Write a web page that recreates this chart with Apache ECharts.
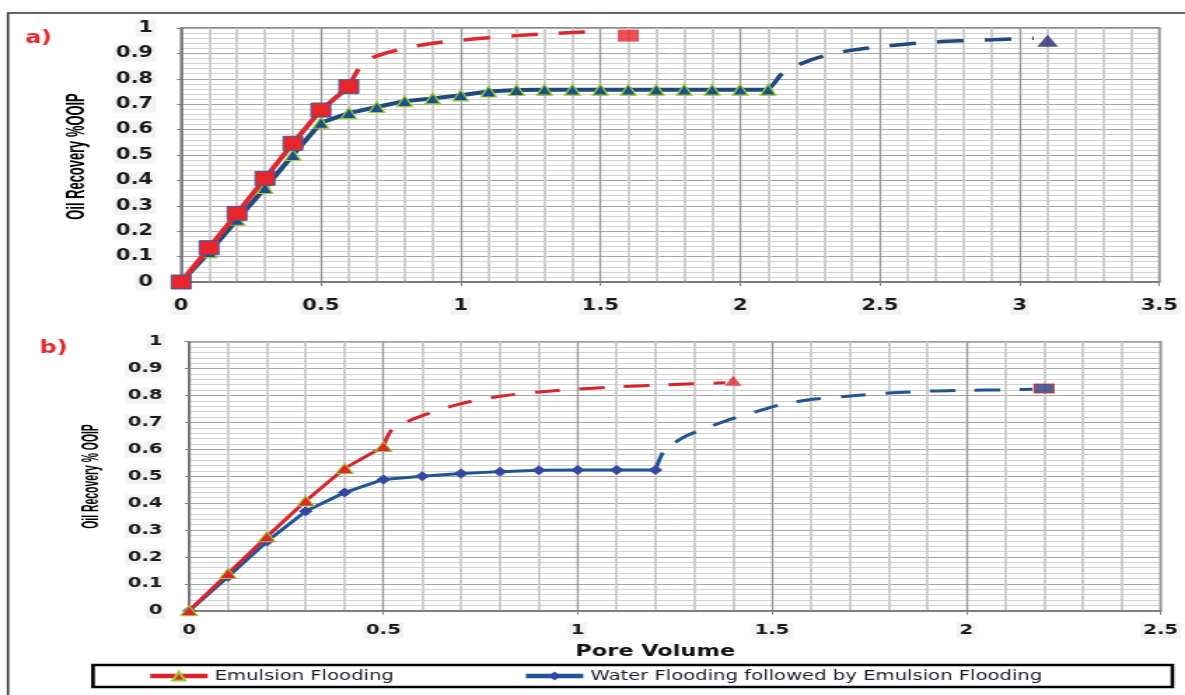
<!DOCTYPE html>
<html>
<head>
<meta charset="utf-8">
<title>Oil Recovery vs Pore Volume</title>
<script src="https://cdn.jsdelivr.net/npm/echarts@6/dist/echarts.min.js"></script>
<style>
  html, body { margin: 0; padding: 0; background: #fff; overflow: hidden; }
  #wrap { width: 1185px; height: 695px; overflow: hidden; }
  /* the figure is laid out on a narrower canvas and widened horizontally */
  #chart { width: 846px; height: 695px; transform: scaleX(1.40071); transform-origin: 0 0; }
</style>
</head>
<body>
<div id="wrap"><div id="chart"></div></div>
<script>
// ---------- panel a) ----------
const emulsionPvA   = [0, 0.1, 0.2, 0.3, 0.4, 0.5, 0.6];
const emulsionRecA  = [0, 0.135, 0.27, 0.408, 0.546, 0.677, 0.769];
const emulsionTrendPvA  = [0.6, 0.63, 0.66, 0.7, 0.8, 0.9, 1.0, 1.1, 1.2, 1.3, 1.4, 1.5];
const emulsionTrendRecA = [0.769, 0.83, 0.865, 0.89, 0.92, 0.94, 0.952, 0.962, 0.97, 0.977, 0.982, 0.987];
const emulsionEndA = [1.6, 0.97];

const waterPvA  = [0, 0.1, 0.2, 0.3, 0.4, 0.5, 0.6, 0.7, 0.8, 0.9, 1.0, 1.1,
                   1.2, 1.3, 1.4, 1.5, 1.6, 1.7, 1.8, 1.9, 2.0, 2.1];
const waterRecA = [0, 0.118, 0.245, 0.37, 0.5, 0.627, 0.665, 0.689, 0.712, 0.723, 0.735, 0.75,
                   0.756, 0.757, 0.757, 0.757, 0.757, 0.757, 0.757, 0.757, 0.757, 0.757];
const waterTrendPvA  = [2.1, 2.12, 2.15, 2.22, 2.3, 2.4, 2.5, 2.6, 2.7, 2.8, 2.9, 3.0, 3.05];
const waterTrendRecA = [0.757, 0.78, 0.82, 0.86, 0.89, 0.913, 0.926, 0.937, 0.945, 0.95, 0.954, 0.958, 0.96];
const waterEndA = [3.1, 0.95];

// ---------- panel b) ----------
const emulsionPvB  = [0, 0.1, 0.2, 0.3, 0.4, 0.5];
const emulsionRecB = [0, 0.138, 0.275, 0.408, 0.529, 0.61];
const emulsionTrendPvB  = [0.5, 0.52, 0.55, 0.6, 0.7, 0.8, 0.9, 1.0, 1.1, 1.2, 1.3, 1.38];
const emulsionTrendRecB = [0.61, 0.67, 0.695, 0.725, 0.77, 0.797, 0.813, 0.824, 0.832, 0.838, 0.844, 0.847];
const emulsionEndB = [1.4, 0.855];

const waterPvB  = [0, 0.1, 0.2, 0.3, 0.4, 0.5, 0.6, 0.7, 0.8, 0.9, 1.0, 1.1, 1.2];
const waterRecB = [0, 0.126, 0.257, 0.37, 0.439, 0.488, 0.5, 0.51, 0.517, 0.522, 0.523, 0.523, 0.523];
const waterTrendPvB  = [1.2, 1.22, 1.24, 1.28, 1.34, 1.4, 1.46, 1.52, 1.6, 1.7, 1.8, 1.9, 2.0, 2.1, 2.17];
const waterTrendRecB = [0.523, 0.59, 0.615, 0.65, 0.684, 0.715, 0.74, 0.765, 0.785, 0.798, 0.809, 0.816, 0.819, 0.821, 0.823];
const waterEndB = [2.2, 0.826];

const seriesNames = ['Emulsion Flooding', 'Water Flooding followed by Emulsion Flooding'];
const yTitles = ['Oil Recovery %OOIP', 'Oil Recovery % OOIP'];
const xTitle = 'Pore Volume';
const panelTags = ['a)', 'b)'];

const zip = (xs, ys) => xs.map((x, i) => [x, ys[i]]);

const TICK_FONT = "'DejaVu Sans', Verdana, sans-serif";
const TITLE_FONT = "'Liberation Sans', Arial, sans-serif";

function xAxisFor(gridIndex, max, fontSize, margin) {
  return {
    type: 'value', gridIndex, min: 0, max, interval: 0.5,
    axisLine: { show: true, onZero: false, lineStyle: { color: '#707070', width: 1.5 } },
    axisTick: { show: true, length: 4, lineStyle: { color: '#808080', width: 1 } },
    axisLabel: {
      margin, fontFamily: TICK_FONT, fontWeight: 'bold', fontSize, color: '#1a1a1a',
      backgroundColor: '#f3f3f3', padding: [1, 2]
    },
    splitLine: { show: true, lineStyle: { color: '#9a9a9a', width: 1.4 } },
    minorTick: { show: false, splitNumber: 5 },
    minorSplitLine: { show: true, lineStyle: { color: '#cacaca', width: 1.8 } }
  };
}

function yAxisFor(gridIndex, fontSize, margin) {
  return {
    type: 'value', gridIndex, min: 0, max: 1, interval: 0.1,
    axisLine: { show: true, onZero: false, lineStyle: { color: '#707070', width: 1.5 } },
    axisTick: { show: true, length: 3, lineStyle: { color: '#808080', width: 1 } },
    axisLabel: {
      margin, fontFamily: TICK_FONT, fontWeight: 'bold', fontSize, color: '#1a1a1a',
      backgroundColor: '#f3f3f3', padding: [1, 2]
    },
    splitLine: { show: true, lineStyle: { color: '#a6a6a6', width: 1 } },
    minorTick: { show: false, splitNumber: 5 },
    minorSplitLine: { show: true, lineStyle: { color: '#d2d2d2', width: 1 } }
  };
}

// rotated, condensed axis title (reads bottom to top)
function yTitle(text, x, y, size, squeeze) {
  return {
    type: 'text', x, y, rotation: Math.PI / 2, scaleX: squeeze, scaleY: 1, z: 10, silent: true,
    style: { text, font: `bold ${size}px ${TITLE_FONT}`, fill: '#000', align: 'center', verticalAlign: 'middle' }
  };
}

const option = {
  animation: false,
  backgroundColor: '#ffffff',
  grid: [
    { left: 129.3, top: 28, width: 702.8, height: 254, show: true, borderColor: '#6a6a6a', borderWidth: 1.5, backgroundColor: '#fff' },
    { left: 135, top: 341.7, width: 697.9, height: 269, show: true, borderColor: '#6a6a6a', borderWidth: 1.5, backgroundColor: '#fff' }
  ],
  xAxis: [
    xAxisFor(0, 3.5, 15, 16),
    Object.assign(xAxisFor(1, 2.5, 14, 12), {
      name: xTitle, nameLocation: 'middle', nameGap: 33,
      nameTextStyle: { fontFamily: TICK_FONT, fontWeight: 'bold', fontSize: 16, color: '#111', padding: [0, 28, 0, 0] }
    })
  ],
  yAxis: [
    yAxisFor(0, 15, 18),
    yAxisFor(1, 14, 17)
  ],
  legend: {
    data: seriesNames,
    left: 105, top: 669, padding: 0,
    itemWidth: 41, itemHeight: 11, itemGap: 92,
    lineStyle: { width: 4.5 },
    textStyle: { fontFamily: TICK_FONT, fontSize: 14, color: '#1c1c28' }
  },
  graphic: [
    { type: 'rect', z: -10, silent: true,
      shape: { x: 5.7, y: 13, width: 900, height: 800 },
      style: { fill: 'none', stroke: '#333', lineWidth: 1.6 } },
    { type: 'rect', z: 10, silent: true,
      shape: { x: 66.4, y: 665, width: 770.6, height: 22 },
      style: { fill: 'none', stroke: '#000', lineWidth: 2.6 } },
    { type: 'text', x: 27.5, y: 39, z: 10, silent: true,
      style: { text: panelTags[0], font: "bold 17px 'DejaVu Sans', sans-serif", fill: '#e8262a', align: 'center', verticalAlign: 'middle' } },
    { type: 'text', x: 38.2, y: 348.5, z: 10, silent: true,
      style: { text: panelTags[1], font: "bold 17px 'DejaVu Sans', sans-serif", fill: '#e8262a', align: 'center', verticalAlign: 'middle' } },
    yTitle(yTitles[0], 54.6, 156.5, 19, 0.68),
    yTitle(yTitles[1], 65.5, 476.5, 16.5, 0.63)
  ],
  series: [
    // panel b)
    { name: seriesNames[0], type: 'line', xAxisIndex: 1, yAxisIndex: 1, z: 4,
      data: zip(emulsionPvB, emulsionRecB),
      symbol: 'triangle', symbolSize: [12, 10],
      itemStyle: { color: '#e0262a', borderColor: '#9acd32', borderWidth: 1 },
      lineStyle: { color: '#d9232a', width: 3 } },
    { name: seriesNames[1], type: 'line', xAxisIndex: 1, yAxisIndex: 1, z: 3,
      data: zip(waterPvB, waterRecB),
      symbol: 'diamond', symbolSize: [10, 10],
      itemStyle: { color: '#3447a3' },
      lineStyle: { color: '#1f5597', width: 3 } },
    { name: 'emulsion trend b', type: 'line', xAxisIndex: 1, yAxisIndex: 1, z: 2,
      data: zip(emulsionTrendPvB, emulsionTrendRecB), smooth: 0.3, showSymbol: false,
      lineStyle: { color: '#d9232a', width: 3, type: [18, 14] } },
    { name: 'water trend b', type: 'line', xAxisIndex: 1, yAxisIndex: 1, z: 2,
      data: zip(waterTrendPvB, waterTrendRecB), smooth: 0.3, showSymbol: false,
      lineStyle: { color: '#1f5597', width: 3, type: [18, 14] } },
    { name: 'emulsion end b', type: 'scatter', xAxisIndex: 1, yAxisIndex: 1, z: 5,
      data: [emulsionEndB], symbol: 'triangle', symbolSize: [12, 10],
      itemStyle: { color: '#e0262a' } },
    { name: 'water end b', type: 'scatter', xAxisIndex: 1, yAxisIndex: 1, z: 5,
      data: [waterEndB], symbol: 'rect', symbolSize: [14, 9],
      itemStyle: { color: '#1f3f80', borderColor: '#e0262a', borderWidth: 1 } },

    // panel a)
    { name: seriesNames[1], type: 'line', xAxisIndex: 0, yAxisIndex: 0, z: 3,
      data: zip(waterPvA, waterRecA),
      symbol: 'triangle', symbolSize: [11, 11],
      itemStyle: { color: '#1f4e8c', borderColor: '#9acd32', borderWidth: 1.2 },
      lineStyle: { color: '#1f4a80', width: 4 } },
    { name: seriesNames[0], type: 'line', xAxisIndex: 0, yAxisIndex: 0, z: 4,
      data: zip(emulsionPvA, emulsionRecA),
      symbol: 'rect', symbolSize: [14, 14],
      itemStyle: { color: '#e8262a', borderColor: '#3b5ba8', borderWidth: 1 },
      lineStyle: { color: '#e0282c', width: 4 } },
    { name: 'emulsion trend a', type: 'line', xAxisIndex: 0, yAxisIndex: 0, z: 2,
      data: zip(emulsionTrendPvA, emulsionTrendRecA), smooth: 0.3, showSymbol: false,
      lineStyle: { color: '#e0282c', width: 3.5, type: [19, 15] } },
    { name: 'water trend a', type: 'line', xAxisIndex: 0, yAxisIndex: 0, z: 2,
      data: zip(waterTrendPvA, waterTrendRecA), smooth: 0.3, showSymbol: false,
      lineStyle: { color: '#1f4a80', width: 3.5, type: [19, 15] } },
    { name: 'emulsion end a', type: 'scatter', xAxisIndex: 0, yAxisIndex: 0, z: 5,
      data: [emulsionEndA], symbol: 'rect', symbolSize: [15, 12],
      itemStyle: { color: '#e8262a' } },
    { name: 'water end a', type: 'scatter', xAxisIndex: 0, yAxisIndex: 0, z: 5,
      data: [waterEndA], symbol: 'triangle', symbolSize: [15, 12],
      itemStyle: { color: '#2b2a70' } }
  ]
};

const chart = echarts.init(document.getElementById('chart'), null, { renderer: 'canvas' });
chart.setOption(option);
</script>
</body>
</html>
